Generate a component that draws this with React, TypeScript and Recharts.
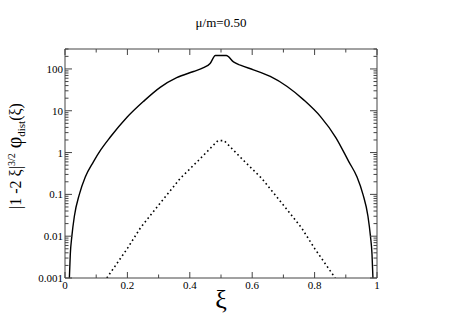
import React from "react";
import { LineChart, Line, XAxis, YAxis } from "recharts";

// ---- data ----
const solidXi = [0.014, 0.017, 0.022, 0.03, 0.046, 0.065, 0.091, 0.115, 0.144, 0.198, 0.251, 0.305, 0.358, 0.412, 0.444, 0.465, 0.482, 0.517, 0.54, 0.562, 0.604, 0.658, 0.712, 0.765, 0.819, 0.868, 0.91, 0.936, 0.955, 0.971, 0.979, 0.984, 0.987];
const solidVal = [0.001, 0.0037, 0.01, 0.03, 0.1, 0.26, 0.6, 1.17, 2.29, 6.9, 16.6, 36.3, 61.7, 87, 107, 135, 209, 209, 148, 123, 95.5, 66, 38, 18.2, 7.24, 2.29, 0.6, 0.26, 0.1, 0.03, 0.01, 0.0037, 0.001];

const dottedXi = [0.134, 0.16, 0.2, 0.241, 0.288, 0.33, 0.369, 0.426, 0.46, 0.49, 0.51, 0.54, 0.574, 0.631, 0.67, 0.712, 0.759, 0.8, 0.84, 0.866];
const dottedVal = [0.001, 0.0019, 0.0051, 0.0155, 0.043, 0.105, 0.24, 0.63, 1.14, 1.93, 1.93, 1.14, 0.63, 0.24, 0.105, 0.043, 0.0155, 0.0051, 0.0019, 0.001];

const xTicks = [0, 0.1, 0.2, 0.3, 0.4, 0.5, 0.6, 0.7, 0.8, 0.9, 1];
const xMajor = [0, 0.2, 0.4, 0.6, 0.8, 1];
const xMajorLabels = ["0", "0.2", "0.4", "0.6", "0.8", "1"];

const yDecades = [0.001, 0.01, 0.1, 1, 10, 100];
const yDecadeLabels = ["0.001", "0.01", "0.1", "1", "10", "100"];
const yMinorMult = [2, 3, 4, 5, 6, 7, 8, 9];
const yMax = 300;

const solidData = solidXi.map((x, i) => ({ xi: x, v: solidVal[i] }));
const dottedData = dottedXi.map((x, i) => ({ xi: x, v: dottedVal[i] }));

const yTicks: number[] = [];
yDecades.forEach((d) => {
  yTicks.push(d);
  yMinorMult.forEach((m) => {
    const v = m * d;
    if (v <= yMax) yTicks.push(v);
  });
});

const AX = "#444";
const FONT = "Liberation Serif";

const isMajorX = (v: number) => xMajor.findIndex((m) => Math.abs(m - v) < 1e-9);
const isMajorY = (v: number) => yDecades.findIndex((m) => Math.abs(m - v) / m < 1e-9);

const BottomTick = (p: any) => {
  const idx = isMajorX(p.payload.value);
  const len = idx >= 0 ? 6 : 3.5;
  return (
    <g>
      <line x1={p.x} x2={p.x} y1={p.y} y2={p.y - len} stroke={AX} strokeWidth={1} />
      {idx >= 0 && (
        <text x={p.x} y={p.y + 11} textAnchor="middle" fontFamily={FONT} fontSize={11} fill="#000">
          {xMajorLabels[idx]}
        </text>
      )}
    </g>
  );
};

const TopTick = (p: any) => {
  const idx = isMajorX(p.payload.value);
  const len = idx >= 0 ? 6 : 3.5;
  return <line x1={p.x} x2={p.x} y1={p.y} y2={p.y + len} stroke={AX} strokeWidth={1} />;
};

const LeftTick = (p: any) => {
  const idx = isMajorY(p.payload.value);
  const len = idx >= 0 ? 7 : 3.5;
  return (
    <g>
      <line x1={p.x} x2={p.x + len} y1={p.y} y2={p.y} stroke={AX} strokeWidth={1} />
      {idx >= 0 && (
        <text x={p.x - 2} y={p.y + 4} textAnchor="end" fontFamily={FONT} fontSize={11} fill="#000">
          {yDecadeLabels[idx]}
        </text>
      )}
    </g>
  );
};

const RightTick = (p: any) => {
  const idx = isMajorY(p.payload.value);
  const len = idx >= 0 ? 7 : 3.5;
  return <line x1={p.x} x2={p.x - len} y1={p.y} y2={p.y} stroke={AX} strokeWidth={1} />;
};

export default function App() {
  return (
    <div style={{ position: "absolute", left: 0, top: 0, width: 463, height: 327, background: "#fff", fontFamily: FONT }}>
      <LineChart
        width={463}
        height={327}
        margin={{ top: 39, right: 76, left: 25, bottom: 29 }}
      >
        <XAxis
          xAxisId="b"
          dataKey="xi"
          type="number"
          domain={[0, 1]}
          ticks={xTicks}
          orientation="bottom"
          height={20}
          tickSize={0}
          tickMargin={0}
          tickLine={false}
          axisLine={{ stroke: AX }}
          tick={<BottomTick />}
          allowDataOverflow
          interval={0}
        />
        <XAxis
          xAxisId="t"
          dataKey="xi"
          type="number"
          domain={[0, 1]}
          ticks={xTicks}
          orientation="top"
          height={10}
          tickSize={0}
          tickMargin={0}
          tickLine={false}
          axisLine={{ stroke: AX }}
          tick={<TopTick />}
          allowDataOverflow
          interval={0}
        />
        <YAxis
          yAxisId="l"
          dataKey="v"
          scale="log"
          type="number"
          domain={[0.001, yMax]}
          ticks={yTicks}
          orientation="left"
          width={40}
          tickSize={0}
          tickMargin={0}
          tickLine={false}
          axisLine={{ stroke: AX }}
          tick={<LeftTick />}
          allowDataOverflow
          interval={0}
        />
        <YAxis
          yAxisId="r"
          dataKey="v"
          scale="log"
          type="number"
          domain={[0.001, yMax]}
          ticks={yTicks}
          orientation="right"
          width={10}
          tickSize={0}
          tickMargin={0}
          tickLine={false}
          axisLine={{ stroke: AX }}
          tick={<RightTick />}
          allowDataOverflow
          interval={0}
        />
        <Line
          xAxisId="t"
          yAxisId="r"
          data={solidData}
          dataKey="v"
          type="monotone"
          stroke="none"
          dot={false}
          isAnimationActive={false}
        />
        <Line
          xAxisId="b"
          yAxisId="l"
          data={solidData}
          dataKey="v"
          type="monotone"
          stroke="#000"
          strokeWidth={1.4}
          dot={false}
          isAnimationActive={false}
        />
        <Line
          xAxisId="b"
          yAxisId="l"
          data={dottedData}
          dataKey="v"
          type="linear"
          stroke="#000"
          strokeWidth={1.6}
          strokeDasharray="1.6 2.9"
          dot={false}
          isAnimationActive={false}
        />
      </LineChart>
      <svg
        width={463}
        height={327}
        style={{ position: "absolute", left: 0, top: 0, pointerEvents: "none" }}
      >
        <text x={221} y={27} textAnchor="middle" fontFamily={FONT} fontSize={13} fill="#000">
          μ/m=0.50
        </text>
        <text x={221} y={308} textAnchor="middle" fontFamily={FONT} fontSize={26} fill="#000">
          ξ
        </text>
        <text
          transform="translate(21,156) rotate(-90)"
          textAnchor="middle"
          fontFamily={FONT}
          fontSize={16}
          fill="#000"
        >
          <tspan>|1 -2 ξ|</tspan>
          <tspan dy={-6} fontSize={10}>3/2</tspan>
          <tspan dy={6} fontSize={20}> φ</tspan>
          <tspan dy={4} fontSize={11}>dist</tspan>
          <tspan dy={-4} fontSize={16}>(ξ)</tspan>
        </text>
      </svg>
    </div>
  );
}
